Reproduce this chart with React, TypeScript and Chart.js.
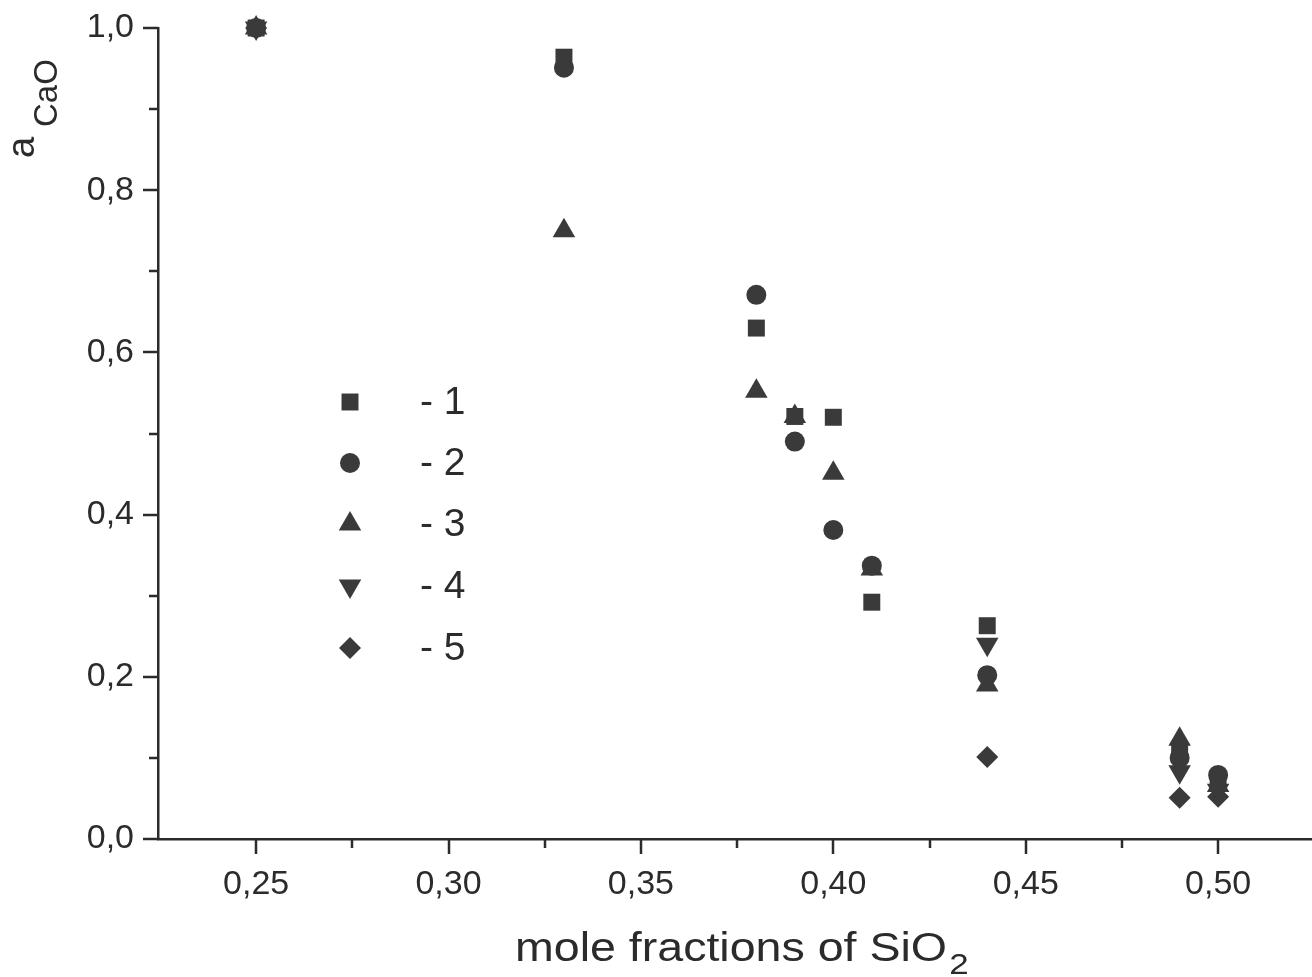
import React, { useEffect, useRef } from 'react';
import { Chart, registerables } from 'chart.js';

Chart.register(...registerables);

// ---- data ----
const xValues = [0.25, 0.33, 0.38, 0.39, 0.40, 0.41, 0.44, 0.49, 0.50];
const series1 = [1.0, 0.964, 0.63, 0.521, 0.52, 0.292, 0.263, 0.11, 0.07];
const series2 = [1.0, 0.951, 0.671, 0.49, 0.381, 0.337, 0.202, 0.10, 0.079];
const series3 = [1.0, 0.75, 0.552, 0.521, 0.451, 0.333, 0.19, 0.123, 0.066];
const series4 = [1.0, null, null, null, null, null, 0.24, 0.083, 0.06];
const series5 = [1.0, null, null, null, null, null, 0.101, 0.051, 0.052];
const seriesLabels = ['- 1', '- 2', '- 3', '- 4', '- 5'];
const xTickValues = [0.25, 0.275, 0.30, 0.325, 0.35, 0.375, 0.40, 0.425, 0.45, 0.475, 0.50];
const xMajorTicks = [0.25, 0.30, 0.35, 0.40, 0.45, 0.50];
const yTickValues = [0, 0.1, 0.2, 0.3, 0.4, 0.5, 0.6, 0.7, 0.8, 0.9, 1.0];
const yMajorTicks = [0, 0.2, 0.4, 0.6, 0.8, 1.0];
const xTitle = 'mole fractions of SiO';
const xTitleSub = '2';
const yTitle = 'a';
const yTitleSub = 'CaO';

const FONT = "'Liberation Sans', Arial, sans-serif";
const MARK = '#3a3a3a';
const INK = '#2b2b2b';

type Shape = { style: string; radius: number; rotation: number };
const shapes: Shape[] = [
  { style: 'rect', radius: 12, rotation: 0 },
  { style: 'circle', radius: 10, rotation: 0 },
  { style: 'triangle', radius: 13, rotation: 0 },
  { style: 'triangle', radius: 13, rotation: 180 },
  { style: 'rectRot', radius: 11, rotation: 0 },
];

const isIn = (v: number, arr: number[]) => arr.some((a) => Math.abs(a - v) < 1e-6);

function drawShape(ctx: CanvasRenderingContext2D, s: Shape, x: number, y: number) {
  ctx.beginPath();
  const r = s.radius;
  if (s.style === 'rect') {
    const h = Math.SQRT1_2 * r;
    ctx.rect(x - h, y - h, 2 * h, 2 * h);
  } else if (s.style === 'circle') {
    ctx.arc(x, y, r, 0, Math.PI * 2);
  } else if (s.style === 'triangle') {
    let rad = (s.rotation * Math.PI) / 180;
    ctx.moveTo(x + Math.sin(rad) * r, y - Math.cos(rad) * r);
    rad += (2 * Math.PI) / 3;
    ctx.lineTo(x + Math.sin(rad) * r, y - Math.cos(rad) * r);
    rad += (2 * Math.PI) / 3;
    ctx.lineTo(x + Math.sin(rad) * r, y - Math.cos(rad) * r);
    ctx.closePath();
  } else {
    ctx.moveTo(x - r, y);
    ctx.lineTo(x, y - r);
    ctx.lineTo(x + r, y);
    ctx.lineTo(x, y + r);
    ctx.closePath();
  }
  ctx.fill();
}

const decorPlugin = {
  id: 'decor',
  afterDraw(chart: any) {
    const ctx: CanvasRenderingContext2D = chart.ctx;
    const xs = chart.scales.x;
    const ys = chart.scales.y;
    const area = chart.chartArea;
    ctx.save();
    // tick marks
    ctx.strokeStyle = INK;
    ctx.lineWidth = 2.5;
    xTickValues.forEach((v) => {
      const px = Math.round(xs.getPixelForValue(v));
      const len = isIn(v, xMajorTicks) ? 15 : 9;
      ctx.beginPath();
      ctx.moveTo(px, area.bottom);
      ctx.lineTo(px, area.bottom + len);
      ctx.stroke();
    });
    yTickValues.forEach((v) => {
      const py = Math.round(ys.getPixelForValue(v));
      const len = isIn(v, yMajorTicks) ? 15 : 9;
      ctx.beginPath();
      ctx.moveTo(area.left, py);
      ctx.lineTo(area.left - len, py);
      ctx.stroke();
    });

    // x title
    ctx.fillStyle = INK;
    ctx.textBaseline = 'alphabetic';
    ctx.textAlign = 'left';
    ctx.font = `40px ${FONT}`;
    const w = ctx.measureText(xTitle).width;
    const sx = 432 / w;
    ctx.save();
    ctx.translate(515, 961);
    ctx.scale(sx, 1);
    ctx.fillText(xTitle, 0, 0);
    ctx.font = `30px ${FONT}`;
    ctx.fillText(xTitleSub, w + 2, 13);
    ctx.restore();

    // y title
    ctx.save();
    ctx.translate(34, 158);
    ctx.rotate(-Math.PI / 2);
    ctx.font = `38px ${FONT}`;
    ctx.fillText(yTitle, 0, 0);
    ctx.font = `33px ${FONT}`;
    ctx.fillText(yTitleSub, 31, 23);
    ctx.restore();

    // legend
    const legendY = [402, 463, 524, 586, 648];
    ctx.font = `39px ${FONT}`;
    ctx.textBaseline = 'middle';
    shapes.forEach((s, i) => {
      ctx.fillStyle = MARK;
      drawShape(ctx, s, 350, legendY[i]);
      ctx.fillStyle = INK;
      ctx.fillText(seriesLabels[i], 420, legendY[i] + 1);
    });
    ctx.restore();
  },
};

export default function App() {
  const ref = useRef<HTMLCanvasElement>(null);
  useEffect(() => {
    if (!ref.current) return;
    const all = [series1, series2, series3, series4, series5];
    const datasets = all.map((s, i) => ({
      label: seriesLabels[i],
      data: xValues
        .map((x, j) => ({ x, y: s[j] }))
        .filter((p) => p.y !== null && p.y !== undefined),
      pointStyle: shapes[i].style,
      pointRadius: shapes[i].radius,
      pointRotation: shapes[i].rotation,
      pointBackgroundColor: MARK,
      pointBorderColor: MARK,
      pointBorderWidth: 0,
      showLine: false,
      clip: false as any,
    }));
    const chart = new Chart(ref.current, {
      type: 'scatter',
      data: { datasets },
      plugins: [decorPlugin],
      options: {
        animation: false,
        responsive: false,
        layout: { autoPadding: false, padding: { top: 28, left: 0, right: 0, bottom: 0 } },
        plugins: { legend: { display: false }, tooltip: { enabled: false } },
        events: [],
        scales: {
          x: {
            type: 'linear',
            min: 0.2245,
            max: 0.5244,
            afterBuildTicks: (scale: any) => {
              scale.ticks = xTickValues.map((v) => ({ value: v }));
            },
            afterFit: (scale: any) => {
              scale.height = 977 - 839;
              scale.paddingLeft = 0;
              scale.paddingRight = 0;
            },
            grid: { display: false, drawTicks: false, tickLength: 0 },
            border: { display: true, color: INK, width: 2.5 },
            ticks: {
              autoSkip: false,
              maxRotation: 0,
              padding: 25,
              color: INK,
              font: { family: FONT, size: 34 },
              callback: (v: any) => (isIn(Number(v), xMajorTicks) ? Number(v).toFixed(2).replace('.', ',') : ''),
            },
          },
          y: {
            type: 'linear',
            min: 0,
            max: 1.0,
            afterBuildTicks: (scale: any) => {
              scale.ticks = yTickValues.map((v) => ({ value: v }));
            },
            afterFit: (scale: any) => {
              scale.width = 158;
              scale.paddingTop = 0;
              scale.paddingBottom = 0;
            },
            grid: { display: false, drawTicks: false, tickLength: 0 },
            border: { display: true, color: INK, width: 2.5 },
            ticks: {
              autoSkip: false,
              padding: 24,
              color: INK,
              font: { family: FONT, size: 34 },
              callback: (v: any) => (isIn(Number(v), yMajorTicks) ? Number(v).toFixed(1).replace('.', ',') : ''),
            },
          },
        },
      },
    } as any);
    return () => chart.destroy();
  }, []);
  return (
    <div style={{ position: 'fixed', left: 0, top: 0, width: 1312, height: 977, background: '#fff' }}>
      <canvas ref={ref} width={1312} height={977} style={{ display: 'block' }} />
    </div>
  );
}
